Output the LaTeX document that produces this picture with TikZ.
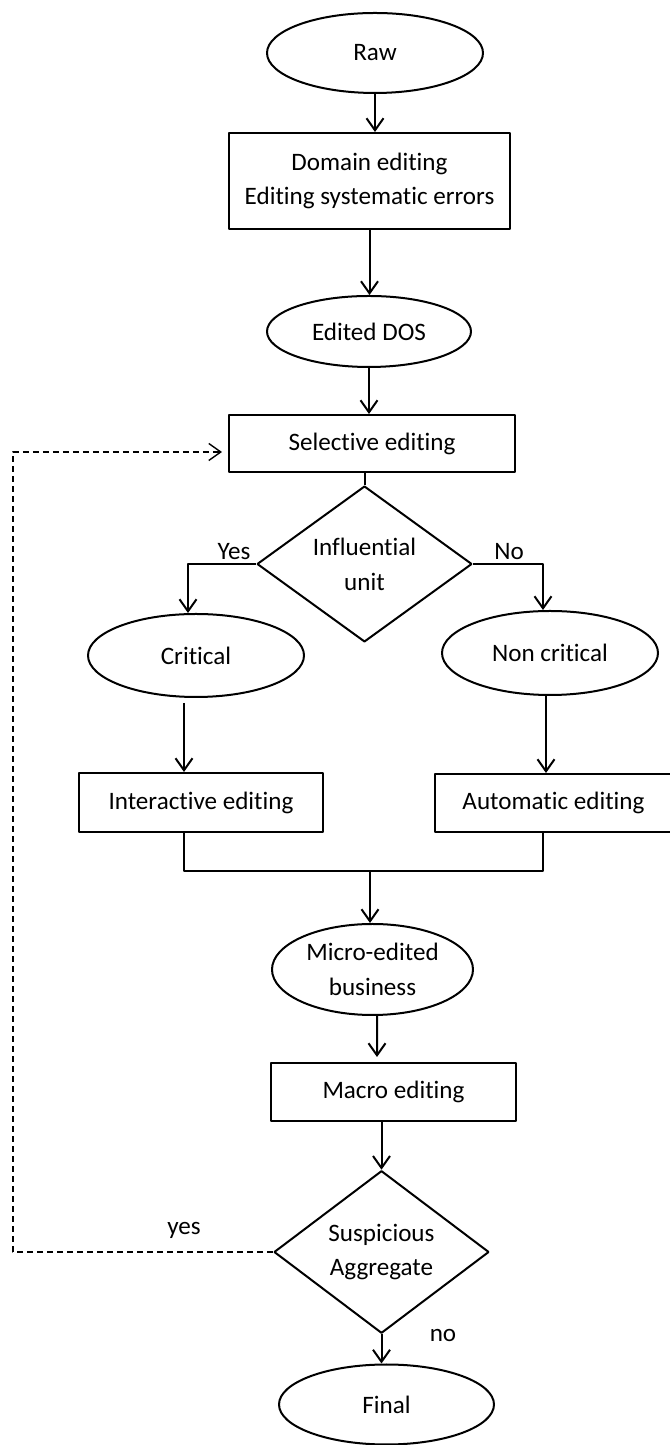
\documentclass[tikz,border=0pt]{standalone}
\usepackage{fontspec}
\setmainfont{Carlito}[Ligatures=NoCommon]
\usetikzlibrary{shapes.geometric,arrows.meta}

\begin{document}
\begin{tikzpicture}[>={Straight Barb[length=6bp,width=8.5bp]},line join=bevel,line width=1bp,
  font=\fontsize{12.6}{17.5}\selectfont,
  term/.style={draw,ellipse,inner sep=0bp,align=center},
  proc/.style={draw,rectangle,inner sep=0bp,align=center},
  decide/.style={draw,diamond,inner sep=0bp,align=center}]
\useasboundingbox (0bp,0bp) rectangle (335bp,722.5bp);
%%
\node (raw) at (187.5bp,696.0bp) [term,minimum width=108bp,minimum height=40bp] {Raw};
  \node (domain) at (184.75bp,632.0bp) [proc,minimum width=140.5bp,minimum height=48bp] {Domain editing\\Editing systematic errors};
  \node (dos) at (184.5bp,556.75bp) [term,minimum width=102bp,minimum height=35.5bp] {Edited DOS};
  \node (sel) at (186.0bp,500.75bp) [proc,minimum width=143bp,minimum height=28.5bp] {Selective editing};
  \node (infl) at (182.25bp,440.5bp) [decide,minimum width=107.5bp,minimum height=62bp] {Influential\\unit};
  \node (crit) at (98.0bp,394.75bp) [term,minimum width=108bp,minimum height=41.5bp] {Critical};
  \node (noncrit) at (275.0bp,396.0bp) [term,minimum width=108bp,minimum height=42bp] {Non critical};
  \node (inter) at (100.5bp,321.25bp) [proc,minimum width=122bp,minimum height=29.5bp] {Interactive editing};
  \node (auto) at (276.75bp,321.0bp) [proc,minimum width=118.5bp,minimum height=29bp] {Automatic editing};
  \node (micro) at (186.25bp,237.75bp) [term,minimum width=100.5bp,minimum height=45.5bp] {Micro-edited\\business};
  \node (macro) at (196.75bp,176.5bp) [proc,minimum width=122.5bp,minimum height=29bp] {Macro editing};
  \node (susp) at (190.75bp,96.5bp) [decide,minimum width=107.5bp,minimum height=62bp] {Suspicious\\Aggregate};
  \node (final) at (193.25bp,20.25bp) [term,minimum width=107.5bp,minimum height=40bp] {Final};
  \coordinate (join) at (185.0bp,287.0bp);
  \coordinate (back) at (6.5bp,96.5bp);
  \draw [->] (raw.south) -- (raw.south |- domain.north);
  \draw [->] (domain.south) -- (domain.south |- dos.north);
  \draw [->] (dos.south) -- (dos.south |- sel.north);
  \draw (infl.north |- sel.south) -- (infl.north);
  \draw [->] (infl.west) -| ([xshift=-4bp]crit.north);
  \node (yes) at (117.0bp,446.5bp) {Yes};
  \draw [->] (infl.east) -| ([xshift=-3.5bp]noncrit.north);
  \node (no) at (254.5bp,446.5bp) {No};
  \draw [->] ([xshift=-6bp,yshift=-2.5bp]crit.south) -- ([xshift=-8.5bp]inter.north);
  \draw [->] ([xshift=-2bp]noncrit.south) -- ([xshift=-3.75bp]auto.north);
  \draw ([xshift=-8.5bp]inter.south) |- (join) -| ([xshift=-5.25bp]auto.south);
  \draw [->] (join) -- (join |- micro.north);
  \draw [->,shorten >=2.5bp] ([xshift=2.25bp]micro.south) -- ([xshift=-8.25bp]macro.north);
  \draw [->] (susp.north |- macro.south) -- (susp.north);
  \draw [->] (susp.south) -- (susp.south |- final.north);
  \node (nolow) at (221.5bp,55.0bp) {no};
  \draw [->,line width=0.7bp,dash pattern=on 3bp off 2bp,shorten >=3bp] (susp.west) -- (back) |- ([yshift=-4.25bp]sel.west);
  \node (yeslow) at (92.0bp,107.5bp) {yes};
%
\end{tikzpicture}
\end{document}
